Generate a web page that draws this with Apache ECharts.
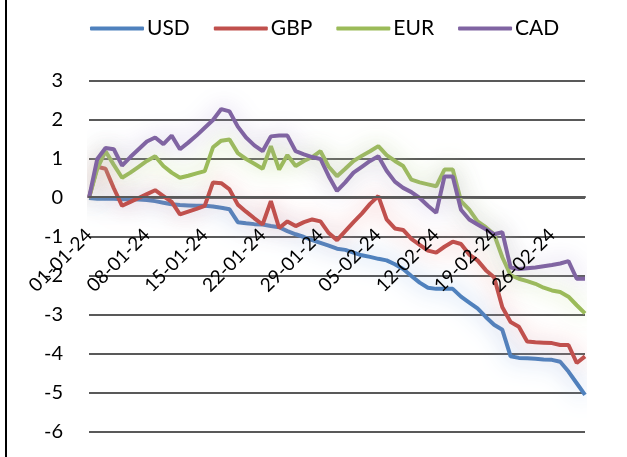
<!DOCTYPE html>
<html>
<head>
<meta charset="utf-8">
<script src="https://cdn.jsdelivr.net/npm/echarts@6/dist/echarts.min.js"></script>
<style>
  html, body { margin: 0; padding: 0; background: #fff; }
  #chart { width: 627px; height: 457px; position: relative; }
  #edge { position: absolute; left: 5px; top: 0; width: 2px; height: 457px; background: #000; }
</style>
</head>
<body>
<div id="chart"></div>
<div id="edge"></div>
<script>
  // daily categories, 01-01-24 .. 01-03-24
  const dates = [
    '01-01-24','02-01-24','03-01-24','04-01-24','05-01-24','06-01-24','07-01-24',
    '08-01-24','09-01-24','10-01-24','11-01-24','12-01-24','13-01-24','14-01-24',
    '15-01-24','16-01-24','17-01-24','18-01-24','19-01-24','20-01-24','21-01-24',
    '22-01-24','23-01-24','24-01-24','25-01-24','26-01-24','27-01-24','28-01-24',
    '29-01-24','30-01-24','31-01-24','01-02-24','02-02-24','03-02-24','04-02-24',
    '05-02-24','06-02-24','07-02-24','08-02-24','09-02-24','10-02-24','11-02-24',
    '12-02-24','13-02-24','14-02-24','15-02-24','16-02-24','17-02-24','18-02-24',
    '19-02-24','20-02-24','21-02-24','22-02-24','23-02-24','24-02-24','25-02-24',
    '26-02-24','27-02-24','28-02-24','29-02-24','01-03-24'
  ]

  const usd = [0, -0.02, -0.02, -0.02, -0.03, -0.03, -0.04, -0.05, -0.08, -0.12,
    -0.16, -0.18, -0.19, -0.2, -0.2, -0.22, -0.25, -0.29, -0.62, -0.65,
    -0.67, -0.68, -0.72, -0.75, -0.85, -0.93, -1.0, -1.08, -1.15, -1.22,
    -1.3, -1.33, -1.4, -1.47, -1.51, -1.56, -1.6, -1.7, -1.82, -2.0,
    -2.17, -2.3, -2.33, -2.33, -2.33, -2.53, -2.68, -2.83, -3.05, -3.25,
    -3.38, -4.06, -4.1, -4.11, -4.12, -4.14, -4.15, -4.2, -4.45, -4.75, -5.05]

  const gbp = [0, 0.8, 0.75, 0.25, -0.2, -0.1, 0.0, 0.1, 0.2, 0.05,
    -0.1, -0.42, -0.35, -0.28, -0.2, 0.4, 0.38, 0.22, -0.17, -0.35,
    -0.52, -0.68, -0.08, -0.77, -0.6, -0.72, -0.62, -0.55, -0.6, -0.9,
    -1.08, -0.85, -0.62, -0.4, -0.15, 0.05, -0.55, -0.78, -0.82, -1.05,
    -1.2, -1.35, -1.4, -1.25, -1.12, -1.18, -1.45, -1.6, -1.85, -2.03,
    -2.8, -3.18, -3.3, -3.68, -3.7, -3.71, -3.72, -3.77, -3.77, -4.23, -4.06]

  const eur = [0, 0.75, 1.2, 0.85, 0.52, 0.65, 0.8, 0.95, 1.07, 0.82,
    0.65, 0.52, 0.57, 0.63, 0.69, 1.3, 1.47, 1.5, 1.15, 1.0,
    0.88, 0.75, 1.33, 0.73, 1.1, 0.82, 0.95, 1.05, 1.2, 0.8,
    0.56, 0.75, 0.95, 1.08, 1.2, 1.33, 1.1, 0.95, 0.82, 0.47,
    0.4, 0.35, 0.3, 0.73, 0.73, -0.08, -0.3, -0.6, -0.75, -0.93,
    -1.52, -1.98, -2.07, -2.13, -2.2, -2.3, -2.37, -2.41, -2.53, -2.75, -2.96]

  const cad = [0, 1.0, 1.28, 1.25, 0.83, 1.05, 1.25, 1.45, 1.55, 1.38,
    1.6, 1.25, 1.42, 1.6, 1.8, 2.0, 2.28, 2.22, 1.83, 1.55,
    1.35, 1.2, 1.58, 1.6, 1.6, 1.2, 1.12, 1.05, 1.0, 0.56,
    0.18, 0.4, 0.65, 0.8, 0.95, 1.07, 0.7, 0.42, 0.26, 0.15,
    0.0, -0.2, -0.38, 0.55, 0.55, -0.3, -0.55, -0.68, -0.8, -0.93,
    -0.88, -1.78, -1.82, -1.8, -1.78, -1.75, -1.72, -1.68, -1.62, -2.07, -2.07]

  const names = ['USD', 'GBP', 'EUR', 'CAD']
  const seriesData = [usd, gbp, eur, cad]
  const colors = ['#4f81bd', '#c0504d', '#9bbb59', '#8064a2']
  // soft glow round each line
  const glows = ['rgba(140,180,230,0.9)', 'rgba(235,150,150,0.75)', 'rgba(190,220,140,0.85)', 'rgba(180,160,215,0.8)']

  const font = 'Lato'

  function formatSeries() {
    let _arr = []
    for (let i = 0; i < seriesData.length; i++) {
      _arr.push({
        name: names[i],
        type: 'line',
        symbol: 'none',
        data: seriesData[i],
        itemStyle: { color: colors[i] },
        lineStyle: {
          width: 4,
          color: colors[i],
          shadowBlur: 22,
          shadowColor: glows[i]
        }
      })
    }
    return _arr
  }

  const chart = echarts.init(document.getElementById('chart'))
  chart.setOption({
    animation: false,
    color: colors,
    legend: {
      top: 13,
      left: 85,
      icon: 'roundRect',
      itemWidth: 54,
      itemHeight: 4,
      itemGap: 24,
      textStyle: { fontFamily: font, fontSize: 21, color: '#000', padding: [0, 0, 0, -2] },
      data: names
    },
    grid: { left: 89, right: 42, top: 81, bottom: 25, outerBoundsMode: 'none' },
    xAxis: {
      type: 'category',
      boundaryGap: false,
      data: dates,
      z: 5,
      // axis sits on the zero line: 6 of 9 units above the bottom
      offset: -235,
      axisLine: { onZero: false, lineStyle: { color: '#595959', width: 2 } },
      axisTick: { show: false },
      axisLabel: {
        interval: 6,
        rotate: 45,
        margin: 35,
        fontFamily: font,
        fontSize: 19,
        color: '#000'
      }
    },
    yAxis: {
      type: 'value',
      min: -6,
      max: 3,
      interval: 1,
      axisLine: { show: false },
      axisTick: { show: false },
      splitLine: { lineStyle: { color: '#595959', width: 2 } },
      axisLabel: { margin: 26, fontFamily: font, fontSize: 20, color: '#000' }
    },
    series: formatSeries()
  })
</script>
</body>
</html>
